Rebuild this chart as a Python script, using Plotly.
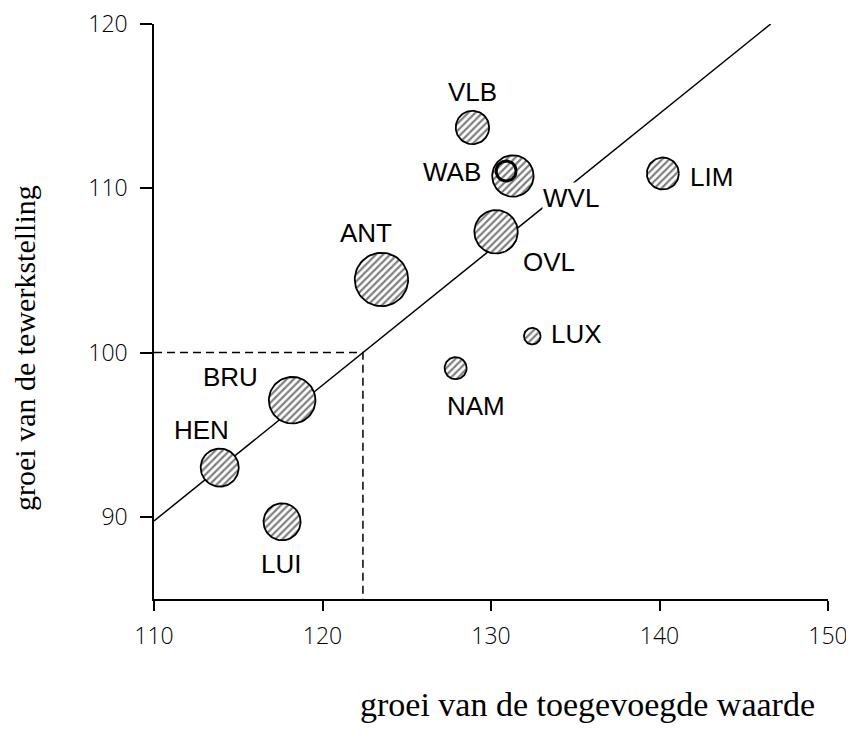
import numpy as np
import plotly.graph_objects as go

# ---- data ----
regio = ["VLB", "WAB", "WVL", "OVL", "LIM", "LUX", "NAM", "ANT", "BRU", "HEN", "LUI"]
groei_toegevoegde_waarde = [128.9, 130.9, 131.3, 130.3, 140.2, 132.45, 127.9, 123.5, 118.2, 113.9, 117.6]
groei_tewerkstelling = [113.7, 111.05, 110.75, 107.35, 110.9, 101.0, 99.05, 104.45, 97.1, 93.0, 89.7]
omvang = [16.7, 10.0, 20.7, 21.7, 16.0, 8.3, 11.0, 26.7, 23.3, 19.0, 18.5]  # relative bubble size

trend_x = [110.0, 146.6]
trend_y = [89.75, 120.0]
ref_x = 122.4
ref_y = 100.0

x_ticks = [110, 120, 130, 140, 150]
y_ticks = [90, 100, 110, 120]

# ---- layout config (page body has an 8px margin) ----
W, H = 846, 724
ML, MR, MT, MB = 146, 26, 16, 133
XR = [110, 150]
YR = [85, 120]
PW, PH = W - ML - MR, H - MT - MB
ppx = PW / (XR[1] - XR[0])
ppy = PH / (YR[1] - YR[0])

label_offset = {  # screen pixels (dx right, dy down)
    "VLB": (0, -36), "WAB": (-54, 1), "WVL": (58, 22), "OVL": (53, 30),
    "LIM": (49, 3), "LUX": (44, -2), "NAM": (20, 38), "ANT": (-15, -46),
    "BRU": (-62, -23), "HEN": (-18, -38), "LUI": (-1, 42),
}

fig = go.Figure()

# dashed reference lines
fig.add_trace(go.Scatter(x=[XR[0], ref_x, ref_x], y=[ref_y, ref_y, YR[0]], mode="lines",
                         line=dict(color="black", width=1.5, dash="8px,5px"),
                         hoverinfo="skip", showlegend=False))
# trend line
fig.add_trace(go.Scatter(x=trend_x, y=trend_y, mode="lines",
                         line=dict(color="black", width=1.5),
                         hoverinfo="skip", showlegend=False))

# hatched circles
t = np.linspace(0, 2 * np.pi, 73)
order = sorted(range(len(regio)), key=lambda i: -omvang[i])
for i in order:
    r = omvang[i]
    cx, cy = groei_toegevoegde_waarde[i], groei_tewerkstelling[i]
    lw = 3.0 if regio[i] == "WAB" else 1.8
    fig.add_trace(go.Scatter(
        x=cx + r / ppx * np.cos(t), y=cy + r / ppy * np.sin(t),
        mode="lines", fill="toself", fillcolor="white",
        fillpattern=dict(shape="/", fgcolor="black", bgcolor="white", size=5, solidity=0.45),
        line=dict(color="black", width=lw),
        name=regio[i], hoverinfo="name", showlegend=False))

# labels
for i, name in enumerate(regio):
    dx, dy = label_offset[name]
    fig.add_annotation(x=groei_toegevoegde_waarde[i], y=groei_tewerkstelling[i],
                       text=name, showarrow=False, xshift=dx, yshift=-dy,
                       font=dict(family="Liberation Sans", size=26, color="black"),
                       bgcolor="white" if name == "WVL" else None,
                       borderpad=0)

# axis titles (positions given in screen pixels)
def sx(px):
    return (px - 8 - ML) / PW

def sy(py):
    return ((H - MB) - (py - 8)) / PH

fig.add_annotation(xref="paper", yref="paper", x=sx(587), y=sy(704),
                   text="groei van de toegevoegde waarde", showarrow=False,
                   xanchor="center", yanchor="middle",
                   font=dict(family="Liberation Serif", size=34, color="black"))
fig.add_annotation(xref="paper", yref="paper", x=sx(24), y=sy(348),
                   text="groei van de tewerkstelling", showarrow=False, textangle=-90,
                   xanchor="center", yanchor="middle",
                   font=dict(family="Liberation Serif", size=30, color="black"))

tickfont = dict(family="Open Sans", size=23, color="black", weight=300)
fig.update_layout(
    width=W, height=H, margin=dict(l=ML, r=MR, t=MT, b=MB, autoexpand=False),
    paper_bgcolor="white", plot_bgcolor="white",
    xaxis=dict(range=XR, tickvals=x_ticks, ticks="outside", ticklen=10, tickwidth=1.5,
               tickcolor="black", showline=True, linecolor="black", linewidth=1.5,
               showgrid=False, zeroline=False, tickfont=tickfont, ticklabelstandoff=6,
               ticklabeloverflow="allow", automargin=False),
    yaxis=dict(range=YR, tickvals=y_ticks, ticks="outside", ticklen=12, tickwidth=1.5,
               tickcolor="black", showline=True, linecolor="black", linewidth=1.5,
               showgrid=False, zeroline=False, tickfont=tickfont, ticklabelstandoff=8,
               ticklabeloverflow="allow", automargin=False),
)

fig.write_html("out.html")
